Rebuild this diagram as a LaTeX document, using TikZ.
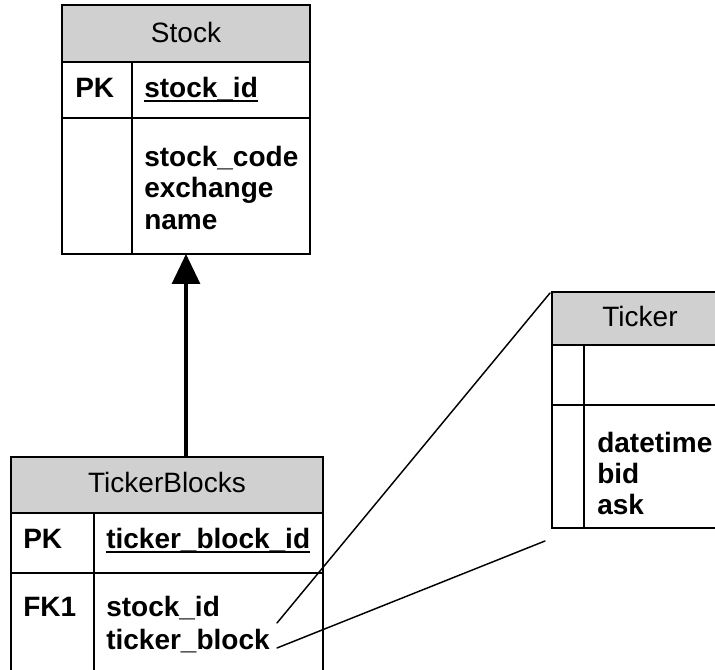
\documentclass[tikz,border=0pt]{standalone}
\usepackage{fontspec}
\setmainfont{Liberation Sans}
\usetikzlibrary{arrows.meta}
\definecolor{hdrgray}{RGB}{208,208,208}
\begin{document}
\begin{tikzpicture}[x=0.75pt,y=-0.75pt,
  tbl/.style={draw=black,line width=1.4pt,rectangle,anchor=north west,inner sep=0pt,outer sep=0pt},
  rule/.style={draw=black,line width=1.4pt},
  ttl/.style={anchor=base,inner sep=0pt,font=\fontsize{21}{25}\selectfont},
  fld/.style={anchor=base west,inner sep=0pt,font=\fontsize{21}{25}\selectfont\bfseries},
  uline/.style={line width=1.5pt},
  link/.style={line width=1.1pt,line cap=round}]
\clip (0,0) rectangle (715,670);

% header shading
\fill[hdrgray] (62,5) rectangle (310,62);
\fill[hdrgray] (11,457) rectangle (323,513);
\fill[hdrgray] (552,292) rectangle (730,345);

% Stock table
\node[tbl,minimum width=186pt,minimum height=186.75pt] (stock) at (62,5) {};
\draw[rule] (62,62) -- (310,62) (62,118) -- (310,118) (132,62) -- (132,254);
\node[ttl] (stockT) at (186,43) {Stock};
\node[fld] (stockPK) at (75,98) {PK};
\node[fld] (stockId) at (144,98) {stock\_id};
\draw[uline] ([yshift=-2.6pt]stockId.base west) -- ([yshift=-2.6pt]stockId.base east);
\node[fld] (stockCode) at (144,167) {stock\_code};
\node[fld] (stockEx) at (144,198) {exchange};
\node[fld] (stockName) at (144,230) {name};

% TickerBlocks table
\node[tbl,minimum width=234pt,minimum height=174.75pt] (tb) at (11,457) {};
\draw[rule] (11,513) -- (323,513) (11,573) -- (323,573) (94,513) -- (94,690);
\node[ttl] (tbT) at (167,493) {TickerBlocks};
\node[fld] (tbPK) at (23,549) {PK};
\node[fld] (tbId) at (106,549) {ticker\_block\_id};
\draw[uline] ([yshift=-2.6pt]tbId.base west) -- ([yshift=-2.6pt]tbId.base east);
\node[fld] (tbFK) at (23,617) {FK1};
\node[fld] (tbStock) at (106,617) {stock\_id};
\node[fld] (tbBlock) at (106,649) {ticker\_block};

% Ticker table
\node[tbl,minimum width=133.5pt,minimum height=177pt] (ticker) at (552,292) {};
\draw[rule] (552,345) -- (730,345) (552,405) -- (730,405) (584,345) -- (584,528);
\node[ttl] (tickerT) at (640,327) {Ticker};
\node[fld] (tkDate) at (597,453) {datetime};
\node[fld] (tkBid) at (597,484) {bid};
\node[fld] (tkAsk) at (597,515) {ask};

% relationship TickerBlocks -> Stock
\draw[line width=2.3pt,-{Triangle[length=22.5pt,width=21pt]}] (tb.north -| stock.south) -- (stock.south);

% ticker_block expands to the Ticker table
\coordinate (zoomA) at (277,623);
\coordinate (zoomB) at (277,648);
\coordinate (zoomTop) at (550,293);
\coordinate (zoomBot) at (545,541);
\draw[link] (zoomA) -- (zoomTop);
\draw[link] (zoomB) -- (zoomBot);
\end{tikzpicture}
\end{document}
